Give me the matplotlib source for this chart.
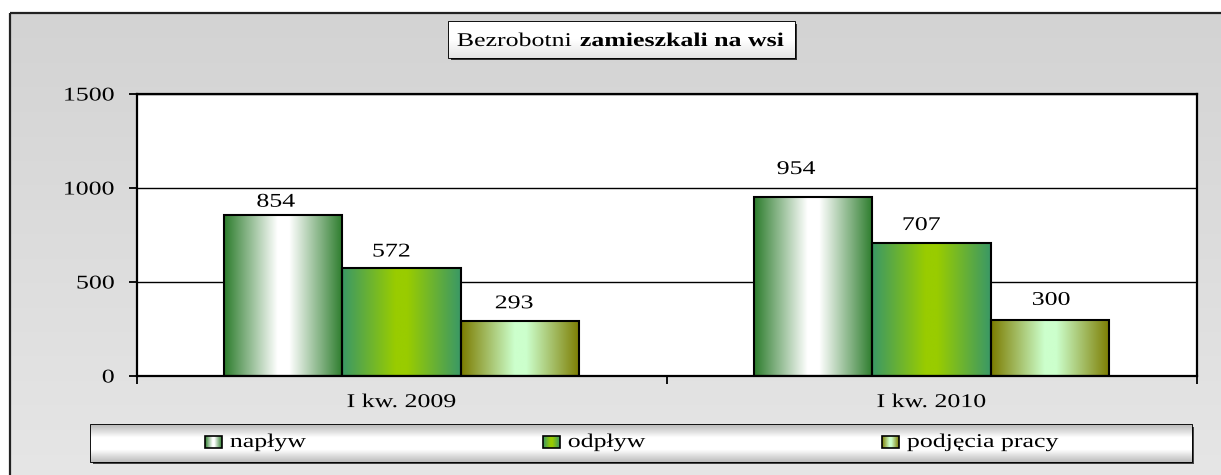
import numpy as np
import matplotlib
matplotlib.use('Agg')
import matplotlib.pyplot as plt
from matplotlib.colors import LinearSegmentedColormap
from matplotlib.patches import Rectangle
from matplotlib.patheffects import AbstractPathEffect
from matplotlib.transforms import Affine2D

# dane
categories = ['I kw. 2009', 'I kw. 2010']
series_names = ['napływ', 'odpływ', 'podjęcia pracy']
naplyw = [854, 954]
odplyw = [572, 707]
podjecia = [293, 300]
y_ticks = [0, 500, 1000, 1500]
title_normal = 'Bezrobotni'
title_bold = 'zamieszkali na wsi'

# style: kolory gradientu (krawędź, środek) dla każdej serii
grad_colors = [
    ['#2c7c2c', '#ffffff', '#ffffff', '#2c7c2c'],
    ['#3a9866', '#99cc00', '#99cc00', '#3a9866'],
    ['#7c7c00', '#ccffcc', '#ccffcc', '#7c7c00'],
]
grad_stops = [0.0, 0.45, 0.55, 1.0]
# przesunięcia etykiet (punkty), jak w oryginale
label_dx = [[-5.3, -7.4, -4.3], [-12.3, -7.4, 0.7]]
label_dy = [[6.3, 8.6, 9.1], [16.3, 9.4, 10.6]]

plt.rcParams['font.family'] = ['Liberation Serif', 'DejaVu Serif']
FS = 14
SX = 1.33  # tekst w oryginale jest rozciągnięty w poziomie


class Stretch(AbstractPathEffect):
    """rozciąga tekst w poziomie wokół punktu zaczepienia"""

    def __init__(self, sx, anchor='center'):
        super().__init__()
        self.sx = sx
        self.anchor = anchor

    def draw_path(self, renderer, gc, tpath, affine, rgbFace=None):
        ext = tpath.get_extents(affine)
        if self.anchor == 'left':
            cx = ext.x0
        elif self.anchor == 'right':
            cx = ext.x1
        else:
            cx = (ext.x0 + ext.x1) / 2
        t = affine + Affine2D().translate(-cx, 0).scale(self.sx, 1).translate(cx, 0)
        renderer.draw_path(gc, tpath, t, rgbFace)


def stretch(txt, anchor='center'):
    txt.set_path_effects([Stretch(SX, anchor)])


W, H = 1221, 475
fig = plt.figure(figsize=(W / 100, H / 100), dpi=100)
fig.patch.set_facecolor('white')

# tło w pikselach
bg = fig.add_axes([0, 0, 1, 1])
bg.axis('off')
bg_cmap = LinearSegmentedColormap.from_list('bg', ['#d3d3d3', '#e6e6e6'])
bg.imshow(np.linspace(0, 1, 256).reshape(-1, 1), extent=[10, W + 5, H + 5, 13],
          cmap=bg_cmap, aspect='auto', zorder=0)
bg.add_patch(Rectangle((10, 13), W, H, fill=False, edgecolor='#222222', lw=1.6, zorder=1))


def cmap_for(i):
    return LinearSegmentedColormap.from_list('s%d' % i, list(zip(grad_stops, grad_colors[i])))


horiz = np.linspace(0, 1, 256).reshape(1, -1)

# tytuł
bg.add_patch(Rectangle((451, 24), 346, 36, facecolor='#333333', edgecolor='none', zorder=2))
tbox = Rectangle((449, 22), 346, 36, facecolor='white', edgecolor='black', lw=1.3, zorder=3)
bg.add_patch(tbox)
box_cmap = LinearSegmentedColormap.from_list('tb', ['#ffffff', '#ffffff', '#e4e4e4'])
im = bg.imshow(np.linspace(0, 1, 64).reshape(-1, 1), extent=[449, 795, 58, 22],
               cmap=box_cmap, aspect='auto', zorder=3.5)
im.set_clip_path(tbox)
t = bg.text(457, 46, title_normal, fontsize=FS, va='baseline', ha='left', zorder=5)
stretch(t, 'left')
t = bg.text(580, 46, title_bold, fontsize=FS, fontweight='bold', va='baseline', ha='left', zorder=5)
stretch(t, 'left')

# legenda
bg.add_patch(Rectangle((93, 427), 1101, 37, facecolor='#444444', edgecolor='none', zorder=2))
lbox = Rectangle((91, 425), 1101, 37, facecolor='white', edgecolor='black', lw=1.3, zorder=3)
bg.add_patch(lbox)
leg_cmap = LinearSegmentedColormap.from_list('lg', ['#bdbdbd', '#ffffff', '#ffffff', '#bdbdbd'])
im = bg.imshow(np.linspace(0, 1, 64).reshape(-1, 1), extent=[91, 1192, 462, 425],
               cmap=leg_cmap, aspect='auto', zorder=3.5)
im.set_clip_path(lbox)
leg_x = [205, 543, 882]
for i, name in enumerate(series_names):
    x0 = leg_x[i]
    bg.add_patch(Rectangle((x0, 436), 17, 12, facecolor='none', edgecolor='black',
                           lw=1.2, zorder=6))
    bg.imshow(horiz, extent=[x0, x0 + 17, 448, 436], cmap=cmap_for(i), aspect='auto', zorder=5)
    t = bg.text(x0 + 25, 447, name, fontsize=FS, va='baseline', ha='left', zorder=6)
    stretch(t, 'left')
bg.set_xlim(0, W)
bg.set_ylim(H, 0)

# wykres
ax = fig.add_axes([136.7 / W, (H - 376) / H, 1060 / W, 282 / H])
ax.set_facecolor('white')
x = np.arange(len(categories))
bw = 0.2236
values = [naplyw, odplyw, podjecia]
for i, vals in enumerate(values):
    bars = ax.bar(x + (i - 1) * bw, vals, bw, facecolor='none', edgecolor='black',
                  lw=1.5, zorder=4)
    for j, b in enumerate(bars):
        gim = ax.imshow(horiz, extent=[b.get_x(), b.get_x() + bw, 0, b.get_height()],
                        cmap=cmap_for(i), aspect='auto', zorder=3)
        gim.set_clip_path(b)
        t = ax.annotate(str(vals[j]), xy=(b.get_x() + bw / 2, b.get_height()),
                        xytext=(label_dx[j][i], label_dy[j][i]), textcoords='offset points',
                        ha='center', va='baseline', fontsize=FS, zorder=6)
        stretch(t)

ax.set_xlim(-0.5, len(categories) - 0.5)
ax.set_ylim(0, 1500)
ax.set_aspect('auto')
ax.set_yticks(y_ticks)
ax.set_yticklabels([str(v) for v in y_ticks])
ax.set_xticks(np.arange(len(categories) + 1) - 0.5)
ax.set_xticklabels([])
ax.set_xticks(x, minor=True)
ax.set_xticklabels(categories, minor=True)
ax.tick_params(axis='y', length=6, width=1.3, pad=10, labelsize=FS)
ax.tick_params(axis='x', which='major', length=6, width=1.3)
ax.tick_params(axis='x', which='minor', length=0, pad=13, labelsize=FS)
for lbl in ax.get_yticklabels():
    stretch(lbl, 'right')
for lbl in ax.get_xticklabels(minor=True):
    stretch(lbl)
ax.yaxis.grid(True, color='black', lw=1.0, zorder=1)
ax.set_axisbelow(True)
for s in ax.spines.values():
    s.set_linewidth(1.6)
    s.set_zorder(7)

fig.savefig('out.png', dpi=100)
